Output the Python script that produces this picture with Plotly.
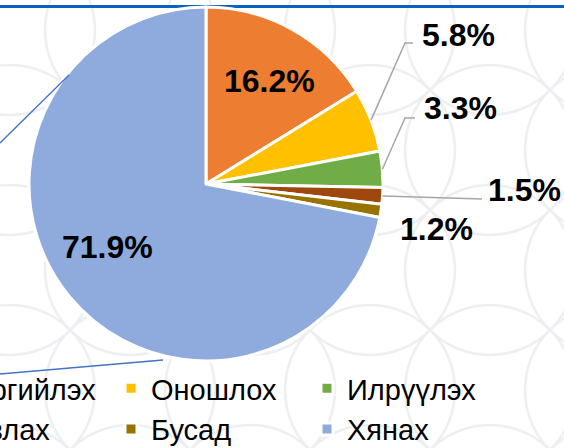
import math
import plotly.graph_objects as go

# ---- data ----
labels = ["Сэргийлэх", "Оношлох", "Илрүүлэх", "Тавлах", "Бусад", "Хянах"]
values = [16.2, 5.8, 3.3, 1.5, 1.2, 71.9]
colors = ["#ED7D31", "#FFC000", "#70AD47", "#9E480E", "#997300", "#8FAADC"]
value_text = [f"{v}%" for v in values]

# ---- layout constants ----
FONT = "Arial, Liberation Sans, sans-serif"
W, H = 600, 448          # only the left 564 px are visible in the window
MB = 85                  # bottom margin holding the legend
PH = H - MB              # plot-area height
CX, CY, R = 206, 184, 177   # pie centre / radius in pixels


def paper(x, y):
    return x / W, (PH - y) / PH


x0, _ = paper(CX - R, 0)
x1, _ = paper(CX + R, 0)
_, y1 = paper(0, CY - R)
_, y0 = paper(0, CY + R)

fig = go.Figure(go.Pie(
    labels=labels, values=values, text=value_text,
    textinfo="none",
    marker=dict(colors=colors, line=dict(color="white", width=3)),
    sort=False, direction="clockwise", rotation=0,
    domain=dict(x=[x0, x1], y=[y0, y1]),
    hoverinfo="label+text",
))

# ---- value labels (leader lines for the small slices) ----
label_pos = {0: (269, 81), 1: (458, 35), 2: (460, 108), 3: (524, 190),
             4: (436, 229), 5: (107, 247)}
elbows = {1: [(405, 43), (413, 43)], 2: [(405, 118), (415, 118)], 3: [(482, 199)]}

total = sum(values)
cum = 0.0
shapes = []
annotations = []
for i, v in enumerate(values):
    mid = 2 * math.pi * (cum + v / 2) / total
    cum += v
    if i in elbows:
        ex, ey = CX + R * math.sin(mid), CY - R * math.cos(mid)
        pts = [(ex, ey)] + elbows[i]
        path = ""
        for k, (px, py) in enumerate(pts):
            qx, qy = paper(px, py)
            path += ("M" if k == 0 else " L") + f"{qx:.5f},{qy:.5f}"
        shapes.append(dict(type="path", xref="paper", yref="paper", path=path,
                           line=dict(color="#A6A6A6", width=1.5), layer="above"))
    lx, ly = paper(*label_pos[i])
    annotations.append(dict(x=lx, y=ly, xref="paper", yref="paper", text=value_text[i],
                            showarrow=False, xanchor="center", yanchor="middle",
                            font=dict(family=FONT, size=32, color="black", weight="bold")))

# ---- decorative background pattern (faint circles) ----
for i in range(-1, 6):
    for j in range(-1, 5):
        cx, cy = 10 + 120 * i, 30 + 120 * j
        ax0, ay0 = paper(cx - 85, cy + 85)
        ax1, ay1 = paper(cx + 85, cy - 85)
        shapes.append(dict(type="circle", xref="paper", yref="paper",
                           x0=ax0, y0=ay0, x1=ax1, y1=ay1,
                           line=dict(color="#EEEFF3", width=2.5), layer="below"))

# top blue rule
ty = paper(0, 6.5)[1]
shapes.append(dict(type="line", xref="paper", yref="paper", x0=0, x1=1, y0=ty, y1=ty,
                   line=dict(color="#0563C1", width=3), layer="below"))

# blue connector lines coming from the left edge
for (a, b) in [((0, 143), (69, 75)), ((0, 374), (163, 360))]:
    p0, p1 = paper(*a), paper(*b)
    shapes.append(dict(type="line", xref="paper", yref="paper",
                       x0=p0[0], y0=p0[1], x1=p1[0], y1=p1[1],
                       line=dict(color="#4472C4", width=1.3), layer="above"))

fig.update_layout(
    width=W, height=H,
    margin=dict(l=0, r=0, t=0, b=MB, autoexpand=False),
    paper_bgcolor="white", plot_bgcolor="white",
    shapes=shapes, annotations=annotations,
    showlegend=True,
    legend=dict(orientation="h", x=-85 / W, xanchor="left", y=0, yanchor="top",
                font=dict(family=FONT, size=29, color="black"),
                entrywidth=151, entrywidthmode="pixels",
                bgcolor="rgba(0,0,0,0)", traceorder="normal"),
)

fig.write_html("out.html", config={"displayModeBar": False},
               post_script="document.body.style.margin='0px';")
